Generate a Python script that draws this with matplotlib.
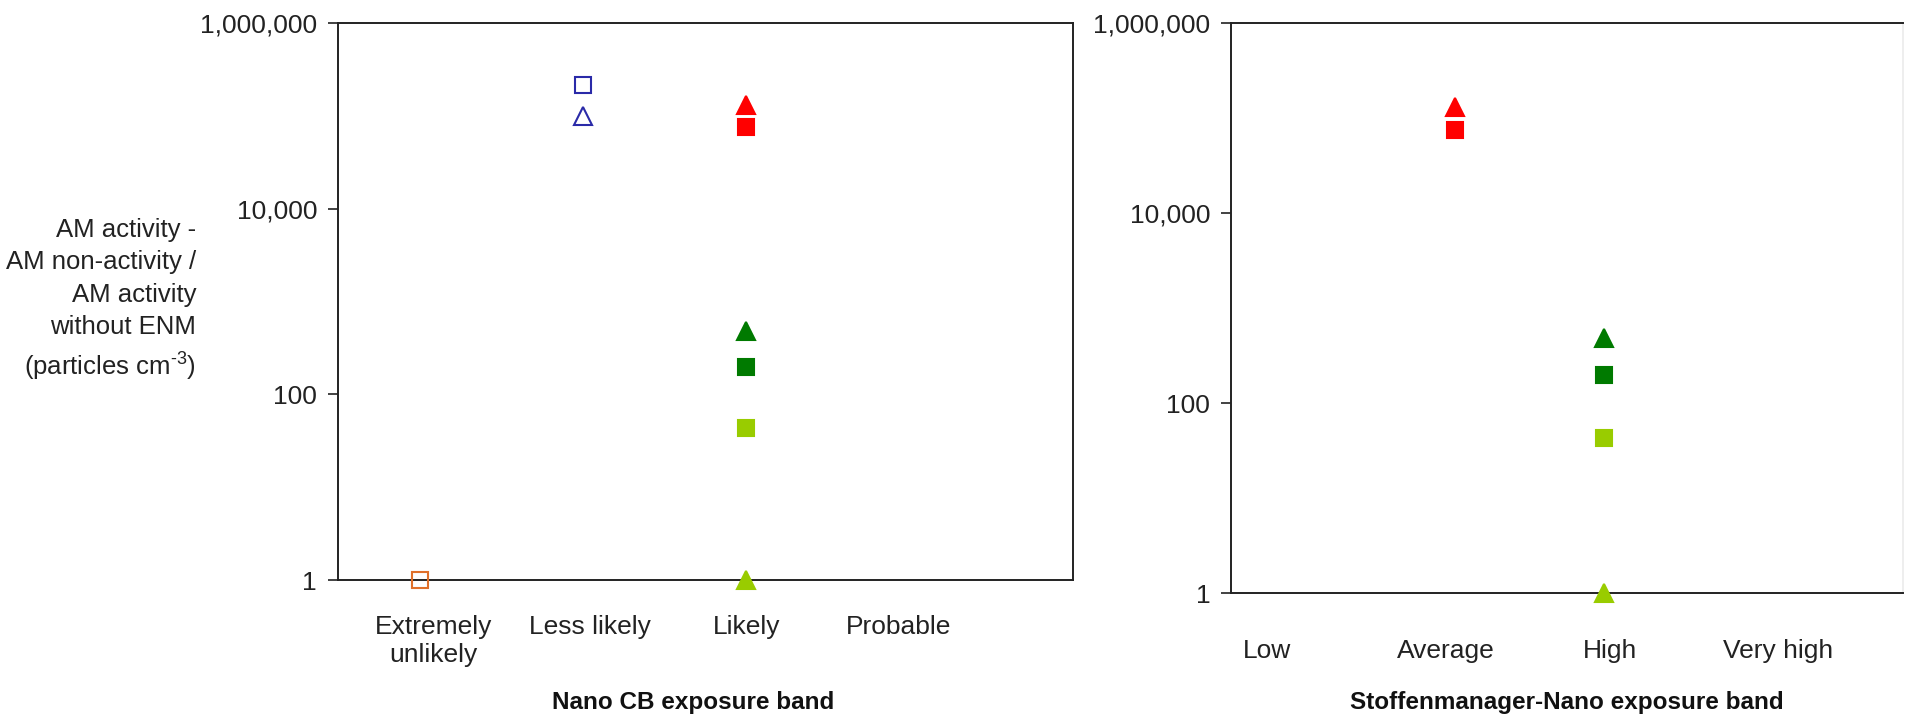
import matplotlib
matplotlib.use("Agg")
import matplotlib.pyplot as plt
from matplotlib.ticker import FixedLocator, FuncFormatter, NullLocator

plt.rcParams['font.family'] = ['Liberation Sans', 'DejaVu Sans']
plt.rcParams['mathtext.fontset'] = 'custom'
plt.rcParams['mathtext.rm'] = 'Liberation Sans'
plt.rcParams['mathtext.default'] = 'regular'

# categories of the two exposure-band schemes
cb_bands = ["Extremely\nunlikely", "Less likely", "Likely", "Probable"]
sm_bands = ["Low", "Average", "High", "Very high"]

# AM activity - AM non-activity / AM activity without ENM (particles cm-3)
# each series: band index (1-based), value, marker, face, edge
cb_series = [
    (1, 1.0,    's', 'none',    '#E0702A'),
    (2, 2.15e5, 's', 'none',    '#2A2AA8'),
    (2, 1.0e5,  '^', 'none',    '#2A2AA8'),
    (3, 1.3e5,  '^', '#FF0000', '#FF0000'),
    (3, 7.5e4,  's', '#FF0000', '#FF0000'),
    (3, 480,    '^', '#007A00', '#007A00'),
    (3, 195,    's', '#007A00', '#007A00'),
    (3, 43,     's', '#99CC00', '#99CC00'),
    (3, 1.0,    '^', '#99CC00', '#99CC00'),
]
sm_series = [
    (2, 1.3e5, '^', '#FF0000', '#FF0000'),
    (2, 7.5e4, 's', '#FF0000', '#FF0000'),
    (3, 480,   '^', '#007A00', '#007A00'),
    (3, 195,   's', '#007A00', '#007A00'),
    (3, 43,    's', '#99CC00', '#99CC00'),
    (3, 1.0,   '^', '#99CC00', '#99CC00'),
]

y_ticks = [1, 100, 10000, 1000000]

fig = plt.figure(figsize=(19.05, 7.15), dpi=100)
fig.patch.set_facecolor('white')

ax1 = fig.add_axes([0.1774, 0.1888, 0.3858, 0.779])
ax2 = fig.add_axes([0.6462, 0.1706, 0.3528, 0.7972])


def setup(ax, series, labels, label_pos, pad):
    for band, val, mk, fc, ec in series:
        ms = 13 if mk == '^' else 12
        ax.plot([band], [val], marker=mk, ms=ms, mfc=fc, mec=ec,
                mew=1.5, ls='none', clip_on=False, zorder=3)
    ax.set_yscale('log')
    ax.set_ylim(1, 1e6)
    ax.set_xlim(0.5, 5.0)
    ax.yaxis.set_major_locator(FixedLocator(y_ticks))
    ax.yaxis.set_minor_locator(NullLocator())
    ax.yaxis.set_major_formatter(FuncFormatter(lambda v, p: f"{v:,.0f}"))
    ax.set_xticks(label_pos)
    ax.set_xticklabels(labels)
    ax.tick_params(axis='x', length=0, pad=pad, labelsize=19, colors='#222222')
    ax.tick_params(axis='y', length=7, width=1.2, direction='out', pad=8,
                   labelsize=19, colors='#222222')
    for s in ax.spines.values():
        s.set_linewidth(1.4)
        s.set_color('#222222')


setup(ax1, cb_series, cb_bands, [1.085, 2.04, 3.0, 3.93], 25)
setup(ax2, sm_series, sm_bands, [0.74, 1.94, 3.04, 4.16], 33)
ax2.spines['right'].set_color('#eeeeee')

fig.text(196 / 1905, 0.58,
         "AM activity -\nAM non-activity /\nAM activity\nwithout ENM\n(particles cm$^{\\text{-}3}$)",
         ha='right', va='center', ma='right', fontsize=18.5, linespacing=1.45,
         color='#222222')

fig.text(693 / 1905, 1 - 702 / 715, "Nano CB exposure band",
         ha='center', va='center', fontsize=17.5, fontweight='bold', color='#111111')
fig.text(1567 / 1905, 1 - 702 / 715, "Stoffenmanager-Nano exposure band",
         ha='center', va='center', fontsize=17.5, fontweight='bold', color='#111111')

fig.savefig("out.png", dpi=100, facecolor='white')
